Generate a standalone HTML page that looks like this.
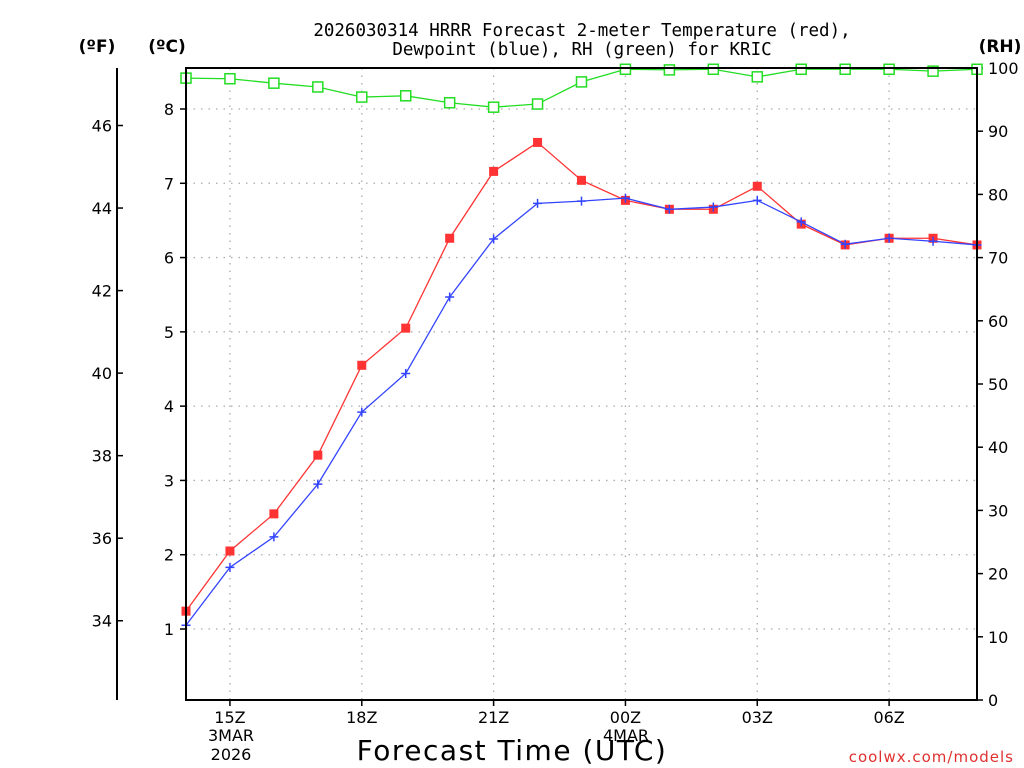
<!DOCTYPE html>
<html><head><meta charset="utf-8"><style>
html,body{margin:0;padding:0;background:#fff;}
svg{display:block;font-family:"DejaVu Sans","Liberation Sans",sans-serif;}
</style></head><body>
<svg id="chart" width="1024" height="768" viewBox="0 0 1024 768" xmlns="http://www.w3.org/2000/svg">
<text x="582" y="36" font-size="17.5" font-family="DejaVu Sans Mono, Liberation Mono, monospace" text-anchor="middle" fill="#000">2026030314 HRRR Forecast 2-meter Temperature (red),</text>
<text x="582" y="55" font-size="17.5" font-family="DejaVu Sans Mono, Liberation Mono, monospace" text-anchor="middle" fill="#000">Dewpoint (blue), RH (green) for KRIC</text>
<text x="97" y="52" font-size="17" font-weight="bold" text-anchor="middle">(ºF)</text>
<text x="167" y="52" font-size="17" font-weight="bold" text-anchor="middle">(ºC)</text>
<text x="1000" y="52" font-size="17" font-weight="bold" text-anchor="middle">(RH)</text>
<text x="512" y="760" font-size="28" text-anchor="middle" letter-spacing="1.5">Forecast Time (UTC)</text>
<text x="1014" y="762" font-size="15" text-anchor="end" fill="#e03030" letter-spacing="1">coolwx.com/models</text>
<g id="grid"></g><g id="axes"></g><g id="series"></g>
<rect x="186" y="68" width="791" height="632" fill="none" stroke="#000" stroke-width="2"/>
</svg>
<script>
const hours = [14,15,16,17,18,19,20,21,22,23,24,25,26,27,28,29,30,31,32];
const tempC = [1.24,2.05,2.55,3.34,4.55,5.05,6.26,7.16,7.55,7.04,6.77,6.65,6.65,6.96,6.45,6.17,6.26,6.26,6.17];
const dewC = [1.05,1.83,2.24,2.95,3.92,4.44,5.47,6.25,6.73,6.76,6.80,6.65,6.68,6.77,6.48,6.18,6.26,6.22,6.17];
const rh = [98.4,98.3,97.6,97.0,95.4,95.6,94.5,93.8,94.3,97.8,99.8,99.7,99.8,98.6,99.8,99.8,99.8,99.5,99.8];
const cTicks = [1,2,3,4,5,6,7,8];
const fTicks = [34,36,38,40,42,44,46];
const rhTicks = [0,10,20,30,40,50,60,70,80,90,100];
const xTickHours = [15,18,21,24,27,30];
const xTickLabels = ["15Z","18Z","21Z","00Z","03Z","06Z"];

const NS="http://www.w3.org/2000/svg";
const X0=186,X1=977,H0=14,H1=32;
const xS=h=>X0+(h-H0)*(X1-X0)/(H1-H0);
const yC=c=>629-(c-1)*74.286;
const yF=f=>yC((f-32)*5/9);
const yR=r=>700-r*6.32;
function mk(tag,attrs,parent){const e=document.createElementNS(NS,tag);for(const k in attrs)e.setAttribute(k,attrs[k]);parent.appendChild(e);return e;}
const grid=document.getElementById('grid'),axes=document.getElementById('axes'),ser=document.getElementById('series');

cTicks.forEach(c=>{
  const y=yC(c);
  const g=mk('line',{x1:X0,x2:X1,y1:y,y2:y,stroke:'#aaa','stroke-width':1.3,'stroke-dasharray':'1.5,6'},grid);
  
  
  mk('line',{x1:X0-6,x2:X0,y1:y,y2:y,stroke:'#000','stroke-width':1.5},axes);
  const t=mk('text',{x:X0-12,y:y+6,'font-size':16,'text-anchor':'end'},axes);t.textContent=c;
  
  
});
xTickHours.forEach((h,i)=>{
  const x=xS(h);
  const g=mk('line',{x1:x,x2:x,y1:68,y2:700,stroke:'#aaa','stroke-width':1.3,'stroke-dasharray':'1.5,6'},grid);
  
  
  mk('line',{x1:x,x2:x,y1:700,y2:706,stroke:'#000','stroke-width':1.5},axes);
  const t=mk('text',{x:x,y:723,'font-size':16,'text-anchor':'middle'},axes);t.textContent=xTickLabels[i];
  
  
});
[["3MAR",231,741],["2026",231,760],["4MAR",626,741]].forEach(d=>{
  const t=mk('text',{x:d[1],y:d[2],'font-size':16,'text-anchor':'middle'},axes);t.textContent=d[0];
  
  
});
const fl=mk('line',{x1:117,x2:117,y1:68,y2:700,stroke:'#000','stroke-width':2},axes);


fTicks.forEach(f=>{
  const y=yF(f);
  mk('line',{x1:117,x2:123,y1:y,y2:y,stroke:'#000','stroke-width':1.5},axes);
  const t=mk('text',{x:112,y:y+6,'font-size':16,'text-anchor':'end'},axes);t.textContent=f;
  
  
});
rhTicks.forEach(r=>{
  const y=yR(r);
  mk('line',{x1:X1,x2:X1+6,y1:y,y2:y,stroke:'#000','stroke-width':1.5},axes);
  const t=mk('text',{x:988,y:y+6,'font-size':16,'text-anchor':'start'},axes);t.textContent=r;
  
  
});

function line(vals,yf,color,name){
  const p=mk('polyline',{points:vals.map((v,i)=>xS(hours[i])+','+yf(v)).join(' '),fill:'none',stroke:color,'stroke-width':1.3},ser);
  
  
}
line(rh,yR,'#22dd22','rh-line');
rh.forEach((v,i)=>{
  const r=mk('rect',{x:xS(hours[i])-5,y:yR(v)-5,width:10,height:10,fill:'#fff',stroke:'#22dd22','stroke-width':1.5},ser);
  
  
});
line(tempC,yC,'#ff3333','temperature-line');
tempC.forEach((v,i)=>{
  const r=mk('rect',{x:xS(hours[i])-4.5,y:yC(v)-4.5,width:9,height:9,fill:'#ff3333'},ser);
  
  
});
line(dewC,yC,'#3344ff','dewpoint-line');
dewC.forEach((v,i)=>{
  const x=xS(hours[i]),y=yC(v);
  const p=mk('path',{d:`M${x-4.5},${y}H${x+4.5}M${x},${y-4.5}V${y+4.5}`,stroke:'#3344ff','stroke-width':1.5},ser);
  
  
});
</script>
</body></html>
